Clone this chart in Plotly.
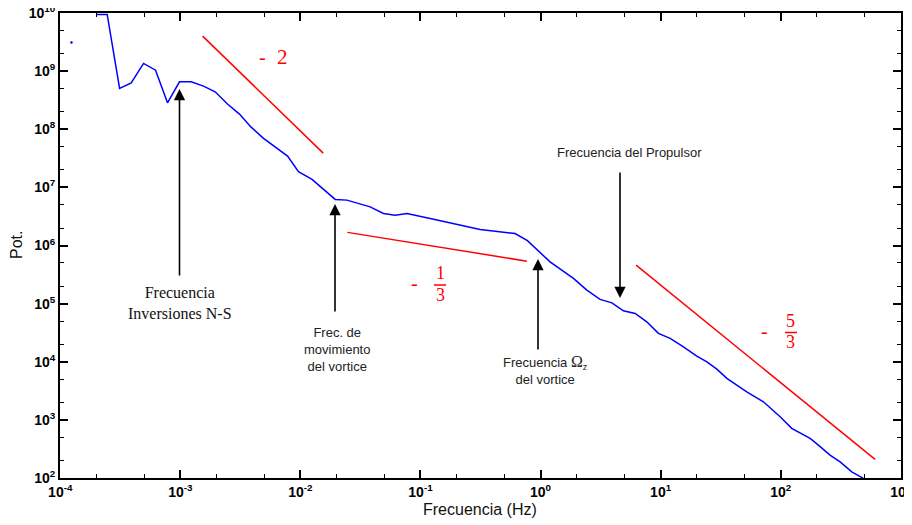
import plotly.graph_objects as go

# ---------------- data ----------------
freq = [2.00e-4, 2.46e-4, 3.12e-4, 3.90e-4, 4.94e-4, 6.22e-4, 7.82e-4, 9.84e-4,
        1.23e-3, 1.56e-3, 1.95e-3, 2.47e-3, 3.11e-3, 3.87e-3, 4.93e-3, 6.17e-3,
        7.82e-3, 9.64e-3, 1.25e-2, 1.95e-2, 2.44e-2, 3.81e-2, 4.92e-2, 6.15e-2,
        7.71e-2, 0.1205, 0.1766, 0.228, 0.314, 0.614, 0.778, 1.20, 1.88, 2.43,
        3.13, 3.93, 4.90, 6.14, 7.67, 9.59, 12.0, 15.5, 20.0, 24.3, 29.4, 35.6,
        52.2, 71.8, 98.9, 123.6, 175.8, 206.1, 257.6, 312.6, 390.8, 488.7]
power = [9.5e9, 9.5e9, 5.06e8, 6.31e8, 1.36e9, 1.04e9, 2.86e8, 6.58e8,
         6.58e8, 5.55e8, 4.42e8, 2.72e8, 1.83e8, 1.10e8, 6.97e7, 5.00e7,
         3.46e7, 1.86e7, 1.37e7, 6.21e6, 6.04e6, 4.63e6, 3.56e6, 3.33e6,
         3.56e6, 2.92e6, 2.46e6, 2.16e6, 1.89e6, 1.61e6, 1.21e6, 5.24e5,
         2.72e5, 1.71e5, 1.18e5, 1.03e5, 7.52e4, 6.78e4, 4.86e4, 3.07e4,
         2.52e4, 1.80e4, 1.25e4, 9.95e3, 7.46e3, 5.16e3, 3.03e3, 2.04e3,
         1.13e3, 711, 479, 367, 247, 189, 127, 98]

dot_freq = [1.24e-4]
dot_power = [3.13e9]

slope_m2_f = [1.535e-3, 1.549e-2]
slope_m2_p = [4.02e9, 3.89e7]
slope_m13_f = [2.466e-2, 0.769]
slope_m13_p = [1.683e6, 5.38e5]
slope_m53_f = [6.25, 611.0]
slope_m53_p = [4.60e5, 208.0]

x_tick_vals = [1e-4, 1e-3, 1e-2, 1e-1, 1e0, 1e1, 1e2, 1e3]
x_tick_text = ["10<sup>-4</sup>", "10<sup>-3</sup>", "10<sup>-2</sup>", "10<sup>-1</sup>",
               "10<sup>0</sup>", "10<sup>1</sup>", "10<sup>2</sup>", "10<sup>3</sup>"]
y_tick_vals = [1e2, 1e3, 1e4, 1e5, 1e6, 1e7, 1e8, 1e9, 1e10]
y_tick_text = ["10<sup>2</sup>", "10<sup>3</sup>", "10<sup>4</sup>", "10<sup>5</sup>",
               "10<sup>6</sup>", "10<sup>7</sup>", "10<sup>8</sup>", "10<sup>9</sup>",
               "10<sup>10</sup>"]

# ---------------- layout helpers ----------------
# The page body has an 8px default margin, so the figure is drawn at (8, 8).
OFF = 8
WIN_W, WIN_H = 912, 525
W, H = WIN_W - OFF, WIN_H - OFF
# plot area in window pixels
X0, X1, Y0, Y1 = 60, 901, 13, 478
ML, MT = X0 - OFF, Y0 - OFF
MR, MB = WIN_W - X1, WIN_H - Y1
PW, PH = X1 - X0, Y1 - Y0
EPS = 0.002  # tiny range padding so that the end ticks keep their labels


def px(x):
    return (x - X0) / PW


def py(y):
    return (Y1 - y) / PH


fig = go.Figure()
fig.add_trace(go.Scatter(x=freq, y=power, mode="lines",
                         line=dict(color="#0000ff", width=1.5), showlegend=False))
fig.add_trace(go.Scatter(x=dot_freq, y=dot_power, mode="markers",
                         marker=dict(color="#0000ff", size=2.5), showlegend=False))
for fx, fy in [(slope_m2_f, slope_m2_p), (slope_m13_f, slope_m13_p), (slope_m53_f, slope_m53_p)]:
    fig.add_trace(go.Scatter(x=fx, y=fy, mode="lines",
                             line=dict(color="#ff0000", width=1.5), showlegend=False))

ann = []
shapes = []
serif = "Liberation Serif, Times New Roman, serif"
sans = "Liberation Sans, Arial, sans-serif"


def text(x, y, s, fam, size, color="#111", **kw):
    ann.append(dict(x=px(x), y=py(y), xref="paper", yref="paper", text=s, showarrow=False,
                    font=dict(family=fam, size=size, color=color),
                    xanchor="center", yanchor="middle", align="center", **kw))


def arrow(xt, yt, xs, ys):
    ann.append(dict(x=px(xt), y=py(yt), xref="paper", yref="paper", text="",
                    showarrow=True, ax=xs - xt, ay=ys - yt, axref="pixel", ayref="pixel",
                    arrowhead=2, arrowsize=1.4, arrowwidth=1.6, arrowcolor="black",
                    standoff=0, startstandoff=0))


def bar(x0, x1, y):
    shapes.append(dict(type="line", xref="paper", yref="paper", x0=px(x0), x1=px(x1),
                       y0=py(y), y1=py(y), line=dict(color="#ff0000", width=1.5)))


# slope labels
text(262, 57, "-", serif, 20, "#ff0000")
text(282, 57, "2", serif, 21, "#ff0000")
text(414, 283, "-", serif, 20, "#ff0000")
text(440, 273, "1", serif, 18, "#ff0000")
bar(434, 446, 285)
text(440, 295, "3", serif, 18, "#ff0000")
text(764, 331, "-", serif, 20, "#ff0000")
text(790, 321, "5", serif, 18, "#ff0000")
bar(785, 797, 332.5)
text(790, 342, "3", serif, 18, "#ff0000")

# arrows
arrow(179.5, 89, 179.5, 277)
arrow(335, 204, 335, 313)
arrow(538, 259, 538, 351)
arrow(620, 298, 620, 171)

# annotation texts
text(180, 303, "Frecuencia<br>Inversiones N-S", serif, 16, "#111")
text(337, 349, "Frec. de<br>movimiento<br>del vortice", sans, 13, "#222")
text(545, 370,
     "Frecuencia <span style='font-family:Liberation Serif;font-size:16px'>Ω</span><sub>z</sub><br>del vortice",
     sans, 13, "#222")
text(629, 153, "Frecuencia del Propulsor", sans, 13, "#222")

# axis titles
text(480, 509, "Frecuencia (Hz)", sans, 16, "#111")
text(16, 245, "Pot.", sans, 16, "#111", textangle=-90)

axis_common = dict(type="log", showgrid=False, zeroline=False, showline=True,
                   linecolor="black", linewidth=2, mirror="ticks", ticks="inside",
                   ticklen=8, tickwidth=1.5, tickcolor="black",
                   tickfont=dict(family=sans, size=14, color="black", weight="bold"),
                   ticklabeloverflow="allow",
                   minor=dict(ticks="inside", ticklen=4, tickwidth=1, tickcolor="black",
                              showgrid=False),
                   automargin=False)

fig.update_layout(
    width=W, height=H,
    margin=dict(l=ML, r=MR, t=MT, b=MB),
    paper_bgcolor="white", plot_bgcolor="white",
    xaxis=dict(range=[-4 - EPS, 3 + EPS], tickvals=x_tick_vals, ticktext=x_tick_text, **axis_common),
    yaxis=dict(range=[2 - EPS, 10 + EPS], tickvals=y_tick_vals, ticktext=y_tick_text, **axis_common),
    annotations=ann, shapes=shapes,
)

fig.write_html("out.html")
